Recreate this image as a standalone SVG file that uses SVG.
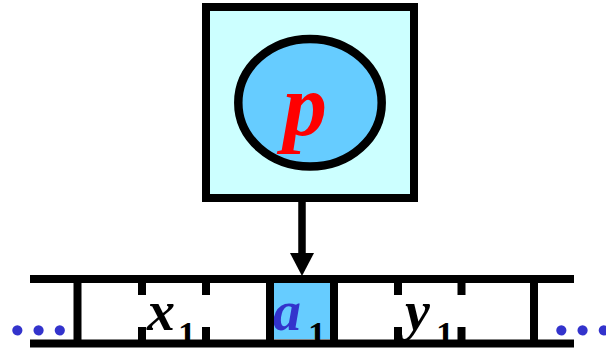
<svg xmlns="http://www.w3.org/2000/svg" width="606" height="349" viewBox="0 0 606 349">
<style>
.stk{stroke:#000;stroke-width:8;fill:none}
.box{stroke:#000;stroke-width:8;fill:#CCFFFF}
.lbl{font-family:"Liberation Serif","Times New Roman",serif;font-weight:bold;font-style:italic}
.sub{font-family:"Liberation Serif","Times New Roman",serif;font-weight:bold;font-size:36px}
.dots{font-family:"Liberation Serif","Times New Roman",serif;font-weight:bold;font-size:63px;fill:#3333CC}
</style>
<rect width="606" height="349" fill="#fff"/>
<g id="head">
<rect x="206" y="7" width="208" height="191" class="box"/>
<ellipse cx="310" cy="102.7" rx="71.7" ry="63.8" fill="#66CCFF" stroke="#000" stroke-width="8.5"/>
<text class="lbl" x="305" y="135" font-size="88" fill="#FF0000" text-anchor="middle">p</text>
</g>
<g id="tape">
<rect x="274" y="283" width="56" height="56" fill="#66CCFF"/>
<text class="lbl" x="147" y="330" font-size="56" fill="#000">x</text>
<text class="sub" x="178" y="347" fill="#000">1</text>
<text class="lbl" x="273" y="330" font-size="56" fill="#3333CC">a</text>
<text class="sub" x="308" y="347" fill="#000">1</text>
<text class="lbl" x="405" y="330" font-size="56" fill="#000">y</text>
<text class="sub" x="436" y="347" fill="#000">1</text>
<line class="stk" x1="30" y1="279" x2="574" y2="279"/>
<line class="stk" x1="30" y1="343.5" x2="574" y2="343.5" stroke-width="9"/>
<line class="stk" x1="77.5" y1="279" x2="77.5" y2="343"/>
<line class="stk" x1="270" y1="279" x2="270" y2="343"/>
<line class="stk" x1="334" y1="279" x2="334" y2="343"/>
<line class="stk" x1="534" y1="279" x2="534" y2="343"/>
<path class="stk" d="M142 279V295M142 327V343M206 279V295M206 327V343M398 279V295M398 327V343M461.5 279V295M461.5 327V343"/>
<text class="dots" x="38.5" y="335" text-anchor="middle">…</text>
<text class="dots" x="582.5" y="335" text-anchor="middle">…</text>
</g>
<g id="connectors">
<line x1="302" y1="202" x2="302" y2="254" stroke="#000" stroke-width="7.5"/>
<polygon points="290,253 314,253 302,276" fill="#000"/>
</g>
</svg>
